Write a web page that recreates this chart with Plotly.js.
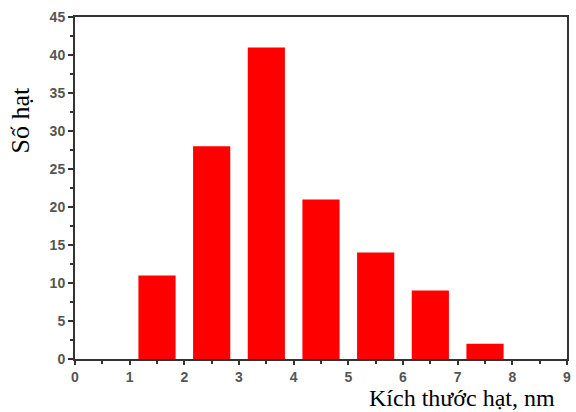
<!DOCTYPE html>
<html><head><meta charset="utf-8">
<script src="https://cdn.plot.ly/plotly-3.0.1.min.js"></script>
<style>body{margin:0;background:#fff}#c{width:576px;height:412px}</style>
</head><body><div id="c"></div>
<script>
const sizes = [1.5, 2.5, 3.5, 4.5, 5.5, 6.5, 7.5];
const counts = [11, 28, 41, 21, 14, 9, 2];
const xTicks = [0,1,2,3,4,5,6,7,8,9];
const yTicks = [0,5,10,15,20,25,30,35,40,45];

const tickFont = {family:'Liberation Sans, Arial, sans-serif', size:14, color:'#555', weight:'bold'};
const data = [{type:'bar', x:sizes, y:counts, width:0.68, marker:{color:'#ff0000', line:{width:0}}}];
const layout = {
  width:576, height:412,
  margin:{l:75, r:9, t:17, b:53},
  paper_bgcolor:'#fff', plot_bgcolor:'#fff',
  showlegend:false,
  xaxis:{range:[0,9], tickvals:xTicks, ticks:'outside', ticklen:4, tickwidth:2, tickcolor:'#333',
    showline:true, linecolor:'#333', linewidth:2, mirror:true, showgrid:false, zeroline:false,
    tickfont:tickFont, minor:{dtick:0.5, ticks:'outside', ticklen:3, tickcolor:'#333', tickwidth:2}},
  yaxis:{range:[0,45], tickvals:yTicks, ticks:'outside', ticklen:5, tickwidth:2, tickcolor:'#333',
    showline:true, linecolor:'#333', linewidth:2, mirror:true, showgrid:false, zeroline:false,
    tickfont:tickFont, minor:{dtick:2.5, ticks:'outside', ticklen:3, tickcolor:'#333', tickwidth:2}},
  annotations:[
    {text:'Số hạt', xref:'paper', yref:'paper', x:-0.11, y:0.70, xanchor:'center', yanchor:'middle',
     textangle:-90, showarrow:false, font:{family:'Liberation Serif, Times New Roman, serif', size:26, color:'#000'}},
    {text:'Kích thước hạt, nm', xref:'paper', yref:'paper', x:0.978, y:-0.155, xanchor:'right', yanchor:'bottom',
     borderpad:0, showarrow:false, font:{family:'Liberation Serif, Times New Roman, serif', size:24, color:'#000'}}
  ]
};
Plotly.newPlot('c', data, layout, {displayModeBar:false});
</script></body></html>
